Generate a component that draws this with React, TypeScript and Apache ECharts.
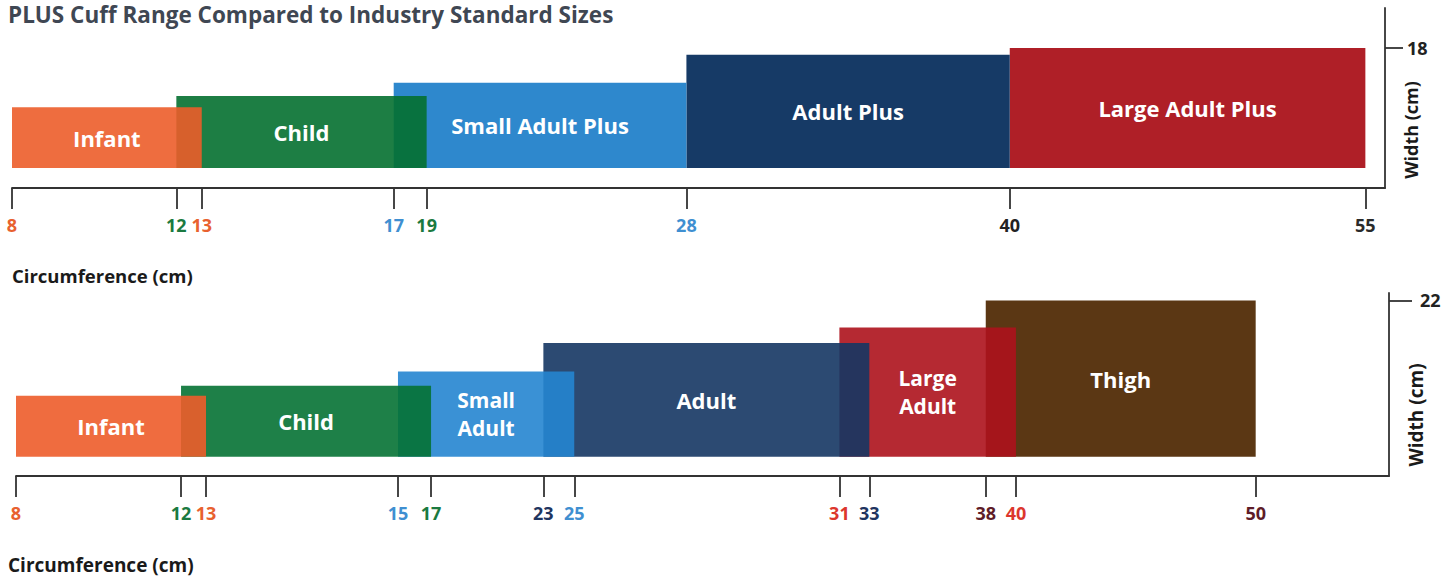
import React, { useEffect, useRef } from "react";
import * as echarts from "echarts";

// ---------- texts ----------
const TITLE = "PLUS Cuff Range Compared to Industry Standard Sizes";
const X_NAME = "Circumference (cm)";
const Y_NAME = "Width (cm)";

// ---------- top panel: PLUS cuffs ----------
const plusCuffs = ["Infant", "Child", "Small Adult Plus", "Adult Plus", "Large Adult Plus"];
const plusMin = [8, 12, 17, 28, 40];
const plusMax = [13, 19, 28, 40, 55];
const plusWidth = [9.1, 10.8, 12.8, 17, 18];
const plusTicks = [8, 12, 13, 17, 19, 28, 40, 55];
const plusWidthTicks = [18];

// ---------- bottom panel: industry standard cuffs ----------
const stdCuffs = ["Infant", "Child", "Small\nAdult", "Adult", "Large\nAdult", "Thigh"];
const stdMin = [8, 12, 15, 23, 31, 38];
const stdMax = [13, 17, 25, 33, 40, 50];
const stdWidth = [8.6, 10, 12, 16, 18.2, 22];
const stdTicks = [8, 12, 13, 15, 17, 23, 25, 31, 33, 38, 40, 50];
const stdWidthTicks = [22];

// ---------- schematic (non-linear) axis layout: where each tick sits, 0..100 ----------
const plusTickPos = [0, 11.97, 13.82, 27.8, 30.2, 49.12, 72.67, 98.57];
const stdTickPos = [0, 12.02, 13.84, 27.82, 30.23, 38.41, 40.66, 59.97, 62.15, 70.63, 72.83, 90.29];

// ---------- styles ----------
const FONT = '"Open Sans", "Noto Sans", sans-serif';
const plusColors = ["#ee6d3f", "#1d7e45", "#2e88cd", "#163a66", "#af1f27"];
const stdColors = ["#ef6c3f", "#1f8048", "#3b91d5", "#2c4a73", "#b52a33", "#5b3714"];
const plusTickColors = ["#e8612f", "#1b7a40", "#e8612f", "#3f8fd1", "#1b7a40", "#3f8fd1", "#222222", "#2a2a2a"];
const stdTickColors = ["#e8612f", "#1b7a40", "#e8612f", "#3f8fd1", "#1b7a40", "#1f3560", "#3f8fd1", "#dc372d", "#1f3560", "#5e1c28", "#dc372d", "#5e1c28"];
const AXIS_COLOR = "#333333";
const OVERLAP_ALPHA = 0.9;

// piecewise-linear schematic scale
function makeWarp(knots: number[], pos: number[]) {
  return (c: number) => {
    if (c <= knots[0]) return pos[0];
    for (let i = 1; i < knots.length; i++) {
      if (c <= knots[i]) {
        const t = (c - knots[i - 1]) / (knots[i] - knots[i - 1]);
        return pos[i - 1] + t * (pos[i] - pos[i - 1]);
      }
    }
    return pos[pos.length - 1];
  };
}

function hexToRgb(h: string) {
  const n = parseInt(h.slice(1), 16);
  return [(n >> 16) & 255, (n >> 8) & 255, n & 255];
}
// colour that, drawn with opacity a over white, shows as `shown`
function baseFor(shown: string, a: number) {
  const rgb = hexToRgb(shown).map((v) => Math.max(0, Math.min(255, Math.round((v - (1 - a) * 255) / a))));
  return `rgb(${rgb[0]},${rgb[1]},${rgb[2]})`;
}

function buildPanel(
  names: string[],
  mins: number[],
  maxs: number[],
  widths: number[],
  colors: string[],
  ticks: number[],
  tickPos: number[],
  tickColors: string[],
  idx: number
) {
  const warp = makeWarp(ticks, tickPos);
  // earlier (smaller) cuffs are drawn on top, semi-transparent where they overlap the next one
  const alphas = names.map((_, i) => (i < names.length - 1 && maxs[i] > mins[i + 1] ? OVERLAP_ALPHA : 1));
  const fills = colors.map((c, i) => (alphas[i] < 1 ? baseFor(c, alphas[i]) : c));
  const order = names.map((_, i) => i).reverse();
  const data = order.map((i) => [warp(mins[i]), warp(maxs[i]), widths[i], i]);
  const tickVals = ticks.map((t) => warp(t));
  const rich: Record<string, any> = {};
  tickColors.forEach((c, i) => {
    rich["c" + i] = { color: c, fontSize: 18, fontWeight: "bold", fontFamily: FONT };
  });
  const series = {
    type: "custom",
    xAxisIndex: idx,
    yAxisIndex: idx,
    data,
    encode: { x: [0, 1], y: 2 },
    renderItem: (params: any, api: any) => {
      const i = api.value(3);
      const p0 = api.coord([api.value(0), api.value(2)]);
      const p1 = api.coord([api.value(1), 0]);
      const twoLine = names[i].indexOf("\n") >= 0;
      return {
        type: "rect",
        shape: { x: p0[0], y: p0[1], width: p1[0] - p0[0], height: p1[1] - p0[1] },
        style: { fill: fills[i], opacity: alphas[i] },
        textContent: {
          style: {
            text: names[i],
            fill: "#ffffff",
            fontSize: twoLine ? 21 : 22,
            fontWeight: "bold",
            fontFamily: FONT,
            align: "center",
            verticalAlign: "middle",
            lineHeight: 28,
          },
        },
        textConfig: { position: "inside" },
      };
    },
  };
  const xAxis = {
    type: "value",
    gridIndex: idx,
    min: 0,
    max: 100,
    splitLine: { show: false },
    axisLine: { show: true, onZero: false, lineStyle: { color: AXIS_COLOR, width: 1.8 } },
    axisTick: { show: true, customValues: tickVals, length: 21, lineStyle: { color: AXIS_COLOR, width: 1.8 } },
    axisLabel: {
      show: true,
      customValues: tickVals,
      margin: 28,
      hideOverlap: false,
      showMinLabel: true,
      showMaxLabel: true,
      formatter: (v: number) => {
        let k = 0;
        let best = Infinity;
        tickVals.forEach((tv, j) => {
          if (Math.abs(tv - v) < best) {
            best = Math.abs(tv - v);
            k = j;
          }
        });
        return `{c${k}|${ticks[k]}}`;
      },
      rich,
    },
  };
  return { series, xAxis };
}

const top = buildPanel(plusCuffs, plusMin, plusMax, plusWidth, plusColors, plusTicks, plusTickPos, plusTickColors, 0);
const bottom = buildPanel(stdCuffs, stdMin, stdMax, stdWidth, stdColors, stdTicks, stdTickPos, stdTickColors, 1);

function yAxisFor(idx: number, min: number, max: number, ticks: number[], tickLen: number, margin: number) {
  return {
    type: "value",
    gridIndex: idx,
    position: "right",
    min,
    max,
    splitLine: { show: false },
    axisLine: { show: true, onZero: false, lineStyle: { color: AXIS_COLOR, width: 1.8 } },
    axisTick: { show: true, customValues: ticks, length: tickLen, lineStyle: { color: AXIS_COLOR, width: 1.8 } },
    axisLabel: {
      show: true,
      customValues: ticks,
      margin,
      color: "#222222",
      fontSize: 18,
      fontWeight: "bold",
      fontFamily: FONT,
    },
  };
}

export default function App() {
  const ref = useRef<HTMLDivElement>(null);
  useEffect(() => {
    if (!ref.current) return;
    const chart = echarts.init(ref.current, undefined, { renderer: "svg" });
    const nameStyle = { fontSize: 18.5, fontWeight: "bold", color: "#1a1a1a", fontFamily: FONT };
    chart.setOption({
      animation: false,
      backgroundColor: "#ffffff",
      title: [
        {
          text: TITLE,
          left: 8,
          top: 2,
          padding: 0,
          textStyle: { fontSize: 22.5, fontWeight: "bold", color: "#3f4753", fontFamily: FONT, lineHeight: 24 },
        },
        { text: X_NAME, left: 12, top: 266, padding: 0, textStyle: nameStyle },
        { text: X_NAME, left: 8, top: 555, padding: 0, textStyle: { ...nameStyle, fontSize: 19 } },
      ],
      grid: [
        { left: 12, right: 59, top: 8, height: 180, containLabel: false, outerBoundsMode: "none" },
        { left: 16, right: 55, top: 293, height: 183, containLabel: false, outerBoundsMode: "none" },
      ],
      xAxis: [top.xAxis, bottom.xAxis],
      yAxis: [yAxisFor(0, -3, 24, plusWidthTicks, 18, 22), yAxisFor(1, -2.7, 23.05, stdWidthTicks, 23, 31)],
      series: [top.series, bottom.series],
      graphic: [
        {
          type: "text",
          x: 1411,
          y: 130,
          rotation: Math.PI / 2,
          style: { text: Y_NAME, align: "center", verticalAlign: "middle", fontSize: 18, fontWeight: "bold", fill: "#1a1a1a", fontFamily: FONT },
        },
        {
          type: "text",
          x: 1416,
          y: 415,
          rotation: Math.PI / 2,
          style: { text: Y_NAME, align: "center", verticalAlign: "middle", fontSize: 19, fontWeight: "bold", fill: "#1a1a1a", fontFamily: FONT },
        },
      ],
    });
    return () => chart.dispose();
  }, []);
  return <div ref={ref} style={{ position: "fixed", left: 0, top: 0, width: 1444, height: 580 }} />;
}
